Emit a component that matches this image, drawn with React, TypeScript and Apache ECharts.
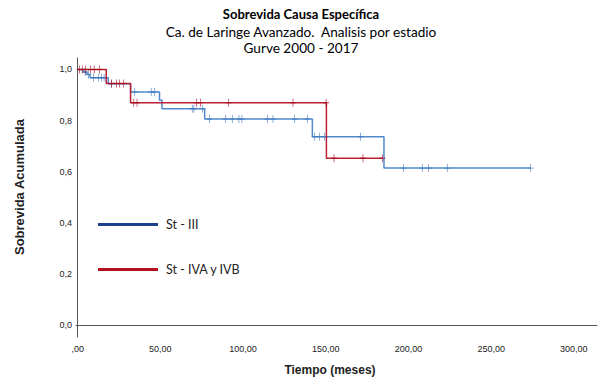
import React, { useEffect, useRef } from 'react';
import * as echarts from 'echarts';

// Kaplan-Meier steps (time in months, cumulative survival after the step)
const blueEventTimes = [0, 3.5, 5.5, 7.5, 18.5, 32, 49.5, 51, 76.8, 141.9, 185.2];
const blueEventSurv = [1.0, 0.99, 0.98, 0.968, 0.944, 0.912, 0.88, 0.846, 0.806, 0.737, 0.614];
const blueCensorTimes = [
  4.5, 6.5, 9.5, 12.5, 14.5, 16, 20.5, 34.5, 44.5, 46.5, 69.3, 70.3, 75.5, 79.8, 89.5, 93.5,
  97.5, 99.3, 114.7, 118.1, 131.2, 138.9, 143.3, 146.3, 149.3, 171.1, 197.1, 208.4, 212.2,
  223.5, 273.9,
];

const redEventTimes = [0, 17.3, 32, 150.4];
const redEventSurv = [1.0, 0.945, 0.87, 0.653];
const redCensorTimes = [
  1.2, 2.8, 4.8, 7.7, 10, 13.3, 20.4, 23.4, 25.4, 27.8, 33.9, 35.9, 71.8, 74.2, 91.3, 130.2,
  150.2, 155, 172.5, 184.2,
];

const seriesNames = ['St - III', 'St - IVA y IVB'];
const xTickValues = [0, 50, 100, 150, 200, 250, 300];
const yTickValues = [0, 0.2, 0.4, 0.6, 0.8, 1.0];

const titleLines = [
  'Sobrevida Causa Específica',
  'Ca. de Laringe Avanzado.  Analisis por estadio',
  'Gurve 2000 - 2017',
];
const xAxisTitle = 'Tiempo (meses)';
const yAxisTitle = 'Sobrevida Acumulada';

function survAt(times: number[], surv: number[], t: number): number {
  let s = surv[0];
  for (let i = 0; i < times.length; i++) {
    if (times[i] < t) s = surv[i];
  }
  return s;
}

function stepData(times: number[], surv: number[], censors: number[]) {
  const d = times.map((t, i) => [t, surv[i]]);
  const last = Math.max(...censors, ...times);
  d.push([last, survAt(times, surv, last + 1e-9)]);
  return d;
}

const PLUS = 'path://M-0.12,-1 L0.12,-1 L0.12,-0.12 L1,-0.12 L1,0.12 L0.12,0.12 L0.12,1 L-0.12,1 L-0.12,0.12 L-1,0.12 L-1,-0.12 L-0.12,-0.12 Z';

export default function App() {
  const ref = useRef<HTMLDivElement>(null);
  useEffect(() => {
    document.body.style.margin = '0';
    if (!ref.current) return;
    const chart = echarts.init(ref.current, undefined, { renderer: 'svg' });
    const axisFont = { fontFamily: 'Liberation Sans', fontSize: 9, color: '#222' };
    const near = (v: number, arr: number[]) => arr.some((a) => Math.abs(a - v) < 1e-6);
    chart.setOption({
      animation: false,
      backgroundColor: '#ffffff',
      grid: { left: 76, right: 1, top: 58, bottom: 42 },
      xAxis: {
        type: 'value',
        min: -1,
        max: 314,
        splitNumber: 6,
        splitLine: { show: false },
        axisTick: { show: false },
        axisLine: { lineStyle: { color: '#555', width: 1 } },
        axisLabel: {
          ...axisFont,
          margin: 7,
          showMinLabel: true,
          showMaxLabel: true,
          formatter: (v: number) => {
            if (!near(v, xTickValues)) return '';
            return v === 0 ? ',00' : v.toFixed(2).replace('.', ',');
          },
        },
      },
      yAxis: {
        type: 'value',
        min: -0.047,
        max: 1.045,
        splitNumber: 5,
        splitLine: { show: false },
        axisTick: { show: false },
        axisLine: { lineStyle: { color: '#555', width: 1 } },
        axisLabel: {
          ...axisFont,
          margin: 4,
          formatter: (v: number) => (near(v, yTickValues) ? v.toFixed(1).replace('.', ',') : ''),
        },
      },
      legend: [
        {
          left: 98,
          top: 218,
          padding: 0,
          icon: 'rect',
          itemWidth: 60,
          itemHeight: 3,
          selectedMode: false,
          data: [{ name: seriesNames[0], itemStyle: { color: '#1f3f8f' } }],
          textStyle: { fontFamily: 'Lato', fontSize: 12.5, color: '#222', padding: [0, 0, 0, 3] },
        },
        {
          left: 98,
          top: 263,
          padding: 0,
          icon: 'rect',
          itemWidth: 60,
          itemHeight: 3,
          selectedMode: false,
          data: [{ name: seriesNames[1], itemStyle: { color: '#b5101f' } }],
          textStyle: { fontFamily: 'Lato', fontSize: 12.5, color: '#222', padding: [0, 0, 0, 3] },
        },
      ],
      graphic: [
        {
          type: 'text',
          x: 301,
          y: 14,
          style: { text: titleLines[0], fontFamily: 'Lato', fontWeight: 'bold', fontSize: 13, fill: '#000', align: 'center', verticalAlign: 'middle' },
        },
        {
          type: 'text',
          x: 301,
          y: 32,
          style: { text: titleLines[1], fontFamily: 'Lato', fontSize: 13.6, fill: '#000', align: 'center', verticalAlign: 'middle' },
        },
        {
          type: 'text',
          x: 301,
          y: 48,
          style: { text: titleLines[2], fontFamily: 'Lato', fontSize: 13.6, fill: '#000', align: 'center', verticalAlign: 'middle' },
        },
        {
          type: 'text',
          x: 330,
          y: 370,
          style: { text: xAxisTitle, fontFamily: 'Liberation Sans', fontWeight: 'bold', fontSize: 12, fill: '#222', align: 'center', verticalAlign: 'middle' },
        },
        {
          type: 'text',
          x: 19,
          y: 187,
          rotation: Math.PI / 2,
          style: { text: yAxisTitle, fontFamily: 'Liberation Sans', fontWeight: 'bold', fontSize: 13, fill: '#222', align: 'center', verticalAlign: 'middle' },
        },
      ],
      series: [
        {
          name: seriesNames[0],
          type: 'line',
          step: 'end',
          symbol: 'none',
          data: stepData(blueEventTimes, blueEventSurv, blueCensorTimes),
          lineStyle: { color: '#5089cc', width: 1.5 },
          itemStyle: { color: '#5089cc' },
          z: 2,
        },
        {
          name: 'censor-blue',
          type: 'scatter',
          symbol: PLUS,
          symbolSize: [6, 8],
          data: blueCensorTimes.map((t) => [t, survAt(blueEventTimes, blueEventSurv, t)]),
          itemStyle: { color: '#3f74bb' },
          z: 3,
        },
        {
          name: seriesNames[1],
          type: 'line',
          step: 'end',
          symbol: 'none',
          data: stepData(redEventTimes, redEventSurv, redCensorTimes),
          lineStyle: { color: '#bb2035', width: 1.5 },
          itemStyle: { color: '#bb2035' },
          z: 4,
        },
        {
          name: 'censor-red',
          type: 'scatter',
          symbol: PLUS,
          symbolSize: [6, 8],
          data: redCensorTimes.map((t) => [t, survAt(redEventTimes, redEventSurv, t)]),
          itemStyle: { color: '#a3001c' },
          z: 5,
        },
      ],
    });
    return () => chart.dispose();
  }, []);
  return <div ref={ref} style={{ width: 600, height: 379 }} />;
}
